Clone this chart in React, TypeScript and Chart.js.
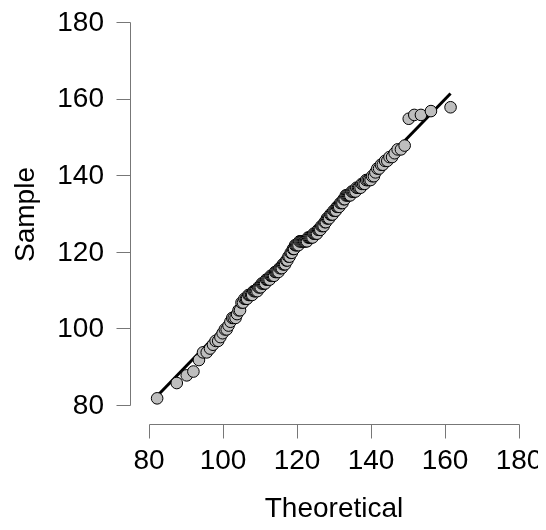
import { useEffect, useRef } from 'react';
import { Chart, registerables } from 'chart.js';

Chart.register(...registerables);

// Theoretical quantiles (x)
const theoretical = [
  82.2, 87.5, 90.2, 92.0, 93.5, 94.6, 95.6, 96.5, 97.3, 98.0,
  98.7, 99.3, 99.9, 100.5, 101.0, 101.5, 102.0, 102.5, 102.9, 103.4,
  103.8, 104.2, 104.6, 105.0, 105.4, 105.8, 106.2, 106.5, 106.9, 107.2,
  107.6, 107.9, 108.3, 108.6, 108.9, 109.3, 109.6, 109.9, 110.2, 110.5,
  110.8, 111.1, 111.4, 111.7, 112.0, 112.3, 112.6, 112.9, 113.2, 113.5,
  113.8, 114.1, 114.4, 114.7, 115.0, 115.3, 115.6, 115.9, 116.2, 116.5,
  116.8, 117.1, 117.4, 117.7, 118.0, 118.3, 118.6, 118.9, 119.2, 119.5,
  119.8, 120.1, 120.4, 120.7, 121.0, 121.3, 121.6,
  121.9,
  122.1, 122.4, 122.7, 123.0, 123.3, 123.6, 123.9, 124.2, 124.5, 124.8,
  125.1, 125.4, 125.7, 126.0, 126.3, 126.6, 126.9, 127.2, 127.5, 127.8,
  128.1, 128.4, 128.7, 129.0, 129.3, 129.6, 129.9, 130.2, 130.5, 130.8,
  131.1, 131.4, 131.7, 132.0, 132.3, 132.6, 132.9, 133.2, 133.5, 133.8,
  134.1, 134.4, 134.8, 135.1, 135.4, 135.8, 136.1, 136.5, 136.8, 137.2,
  137.5, 137.9, 138.3, 138.7, 139.1, 139.5, 139.9, 140.3, 140.8, 141.2,
  141.7, 142.2, 142.7, 143.2, 143.8, 144.4, 145.0, 145.7, 146.4, 147.2,
  148.1, 149.1, 150.2, 151.7, 153.5, 156.2, 161.5,
];

// Sample values (y)
const sample = [
  82, 86, 88, 89, 92, 94, 94, 95, 96, 97,
  97, 98, 99, 100, 100, 101, 102, 103, 103, 103,
  104, 105, 105, 107, 107, 108, 108, 108, 109, 109,
  109, 109, 110, 110, 110, 110, 111, 111, 111, 112,
  112, 112, 112, 113, 113, 113, 113, 114, 114, 114,
  114, 115, 115, 115, 115, 116, 116, 116, 117, 117,
  117, 118, 118, 119, 119, 120, 120, 121, 121, 122,
  122, 122, 122, 123, 123, 123, 123,
  123,
  123, 123, 123, 124, 124, 124, 124, 124, 125, 125,
  125, 125, 126, 126, 126, 127, 127, 127, 128, 128,
  129, 129, 129, 130, 130, 130, 131, 131, 131, 132,
  132, 132, 133, 133, 133, 134, 134, 135, 135, 135,
  135, 135, 136, 136, 136, 136, 137, 137, 137, 137,
  138, 138, 138, 139, 139, 139, 139, 140, 140, 141,
  142, 142, 143, 143, 144, 144, 145, 145, 146, 147,
  147, 148, 155, 156, 156, 157, 158,
];

// Reference line end points
const lineX = [82.2, 161.5];
const lineY = [82.6, 161.6];

const axisTicks = [80, 100, 120, 140, 160, 180];
const xTitle = 'Theoretical';
const yTitle = 'Sample';

const FONT = "'Liberation Sans', Arial, Helvetica, sans-serif";

const offsetAxes = {
  id: 'offsetAxes',
  afterDraw(chart: any) {
    const { ctx } = chart;
    const xs = chart.scales.x;
    const ys = chart.scales.y;
    const gap = 18;
    const tick = 14;
    const first = axisTicks[0];
    const last = axisTicks[axisTicks.length - 1];
    ctx.save();
    ctx.strokeStyle = '#777777';
    ctx.lineWidth = 1;
    ctx.beginPath();
    // y axis
    const ax = Math.round(xs.left - gap) - 0.5;
    ctx.moveTo(ax, Math.round(ys.getPixelForValue(last)) - 0.5);
    ctx.lineTo(ax, Math.round(ys.getPixelForValue(first)) - 0.5);
    axisTicks.forEach((v) => {
      const py = Math.round(ys.getPixelForValue(v)) - 0.5;
      ctx.moveTo(ax - tick, py);
      ctx.lineTo(ax, py);
    });
    // x axis
    const ay = Math.round(ys.bottom + gap) + 0.5;
    ctx.moveTo(Math.round(xs.getPixelForValue(first)) + 0.5, ay);
    ctx.lineTo(Math.round(xs.getPixelForValue(last)) + 0.5, ay);
    axisTicks.forEach((v) => {
      const px = Math.round(xs.getPixelForValue(v)) + 0.5;
      ctx.moveTo(px, ay);
      ctx.lineTo(px, ay + tick);
    });
    ctx.stroke();
    ctx.restore();
  },
};

export default function App() {
  const ref = useRef<HTMLCanvasElement | null>(null);

  useEffect(() => {
    if (!ref.current) return;
    const chart = new Chart(ref.current, {
      type: 'scatter',
      data: {
        datasets: [
          {
            data: theoretical.map((x, i) => ({ x, y: sample[i] })),
            backgroundColor: '#bebebe',
            borderColor: '#000000',
            borderWidth: 1,
            pointRadius: 5.8,
            pointHoverRadius: 5.8,
            order: 1,
            clip: false,
          } as any,
          {
            data: lineX.map((x, i) => ({ x, y: lineY[i] })),
            showLine: true,
            borderColor: '#000000',
            borderWidth: 3,
            pointRadius: 0,
            order: 2,
            clip: false,
          } as any,
        ],
      },
      options: {
        animation: false,
        responsive: false,
        devicePixelRatio: 1,
        events: [],
        layout: { padding: { left: 0, top: 23, right: 19, bottom: 0 } },
        plugins: {
          legend: { display: false },
          tooltip: { enabled: false },
        },
        scales: {
          x: {
            type: 'linear',
            position: 'bottom',
            min: axisTicks[0],
            max: axisTicks[axisTicks.length - 1],
            afterBuildTicks: (s: any) => {
              s.ticks = axisTicks.map((v) => ({ value: v }));
            },
            ticks: {
              font: { family: FONT, size: 28 },
              color: '#000000',
              padding: 38,
              maxRotation: 0,
              autoSkip: false,
            },
            grid: { display: false, drawTicks: false },
            border: { display: false },
            title: {
              display: true,
              text: xTitle,
              font: { family: FONT, size: 28 },
              color: '#000000',
              padding: { top: 0, bottom: 4 },
            },
            afterFit: (s: any) => {
              s.height = 124;
              s.paddingLeft = 0;
              s.paddingRight = 0;
            },
          },
          y: {
            type: 'linear',
            position: 'left',
            min: axisTicks[0],
            max: axisTicks[axisTicks.length - 1],
            afterBuildTicks: (s: any) => {
              s.ticks = axisTicks.map((v) => ({ value: v }));
            },
            ticks: {
              font: { family: FONT, size: 28 },
              color: '#000000',
              padding: 45,
              autoSkip: false,
            },
            grid: { display: false, drawTicks: false },
            border: { display: false },
            title: {
              display: true,
              text: yTitle,
              font: { family: FONT, size: 28 },
              color: '#000000',
              padding: { top: 9, bottom: 0 },
            },
            afterFit: (s: any) => {
              s.width = 149;
              s.paddingTop = 0;
              s.paddingBottom = 0;
            },
          },
        },
      } as any,
      plugins: [offsetAxes],
    });
    return () => chart.destroy();
  }, []);

  return (
    <div
      style={{
        position: 'fixed',
        left: 0,
        top: 0,
        width: 546,
        height: 530,
        background: '#ffffff',
      }}
    >
      <canvas ref={ref} width={538} height={530} style={{ display: 'block', width: 538, height: 530 }} />
    </div>
  );
}
